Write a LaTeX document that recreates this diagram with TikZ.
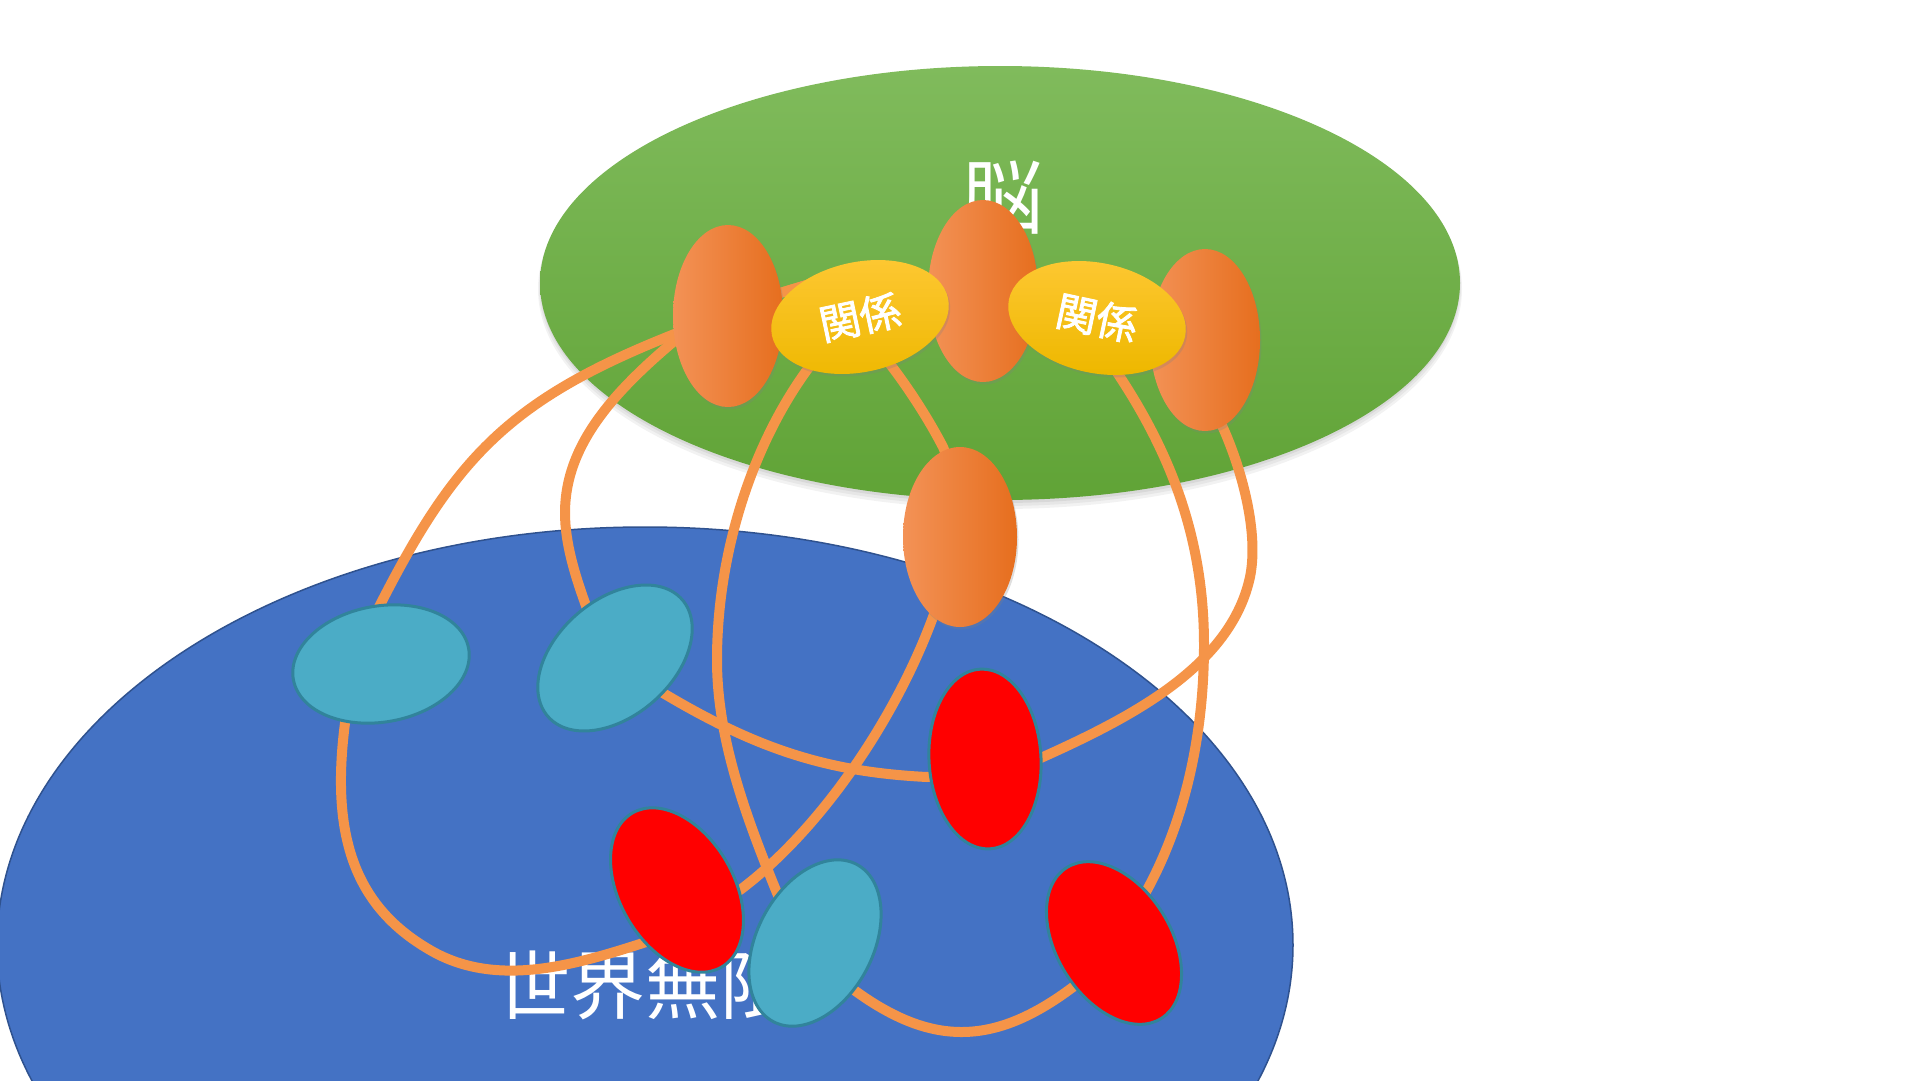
\documentclass[tikz,border=0pt]{standalone}
\usepackage{fontspec}
\newfontfamily\jp{Noto Sans CJK JP}
\newfontfamily\jpmid[FakeBold=2]{Noto Sans CJK JP}
\usetikzlibrary{shapes.geometric,shadows}
\definecolor{wirec}{RGB}{245,148,72}
\definecolor{oL}{RGB}{243,146,86}
\definecolor{oR}{RGB}{230,110,30}
\definecolor{yT}{RGB}{254,200,52}
\definecolor{yB}{RGB}{238,184,0}
\definecolor{gT}{RGB}{128,187,92}
\definecolor{gB}{RGB}{96,163,54}
\definecolor{bluF}{RGB}{68,114,196}
\definecolor{bluD}{RGB}{47,82,143}
\definecolor{tealF}{RGB}{75,172,198}
\definecolor{tealD}{RGB}{49,132,155}
\pgfdeclarelayer{back}
\pgfdeclarelayer{wires}
\pgfsetlayers{back,wires,main}
\begin{document}
\begin{tikzpicture}[x=1pt,y=-1pt,
  wire/.style={draw=wirec,line width=10pt,line join=round},
  orangeblob/.style={ellipse,inner sep=0pt,minimum width=110pt,minimum height=182pt,
    left color=oL,right color=oR,
    drop shadow={shadow xshift=1.5pt,shadow yshift=-2.5pt,opacity=0.25}},
  yellowblob/.style={ellipse,inner sep=0pt,minimum width=180pt,minimum height=110pt,
    top color=yT,bottom color=yB,text=white,
    font=\jpmid\fontsize{41}{41}\selectfont,
    drop shadow={shadow xshift=1.5pt,shadow yshift=-2.5pt,opacity=0.25}},
  tealblob/.style={ellipse,inner sep=0pt,minimum width=178pt,minimum height=116pt,
    fill=tealF,draw=tealD,line width=3pt},
  redblob/.style={ellipse,inner sep=0pt,minimum width=178pt,minimum height=114pt,
    fill=red,draw=tealD,line width=3pt},
  bigtext/.style={text=white,inner sep=0pt}
]
\useasboundingbox (0,0) rectangle (1920,1080);

% ---------- small ellipses (main layer) ----------
\node[orangeblob] (o1) at (728,316) {};
\node[orangeblob] (o2) at (983,291) {};
\node[orangeblob] (o3) at (1205,340) {};
\node[orangeblob,minimum width=114pt,minimum height=180pt] (o4) at (960,537) {};
\node[yellowblob,rotate=12] (y1) at (860,317) {関係};
\node[yellowblob,rotate=-12] (y2) at (1097,318) {関係};
\node[tealblob,rotate=10] (t1) at (381,664) {};
\node[tealblob,rotate=41] (t2) at (615,658) {};
\node[redblob,minimum width=112pt,minimum height=180pt,rotate=3] (r1) at (985,759) {};
\node[redblob,rotate=120] (r2) at (677,890) {};
\node[redblob,rotate=122] (r3) at (1114,943) {};
\node[tealblob,rotate=62] (t3) at (815,943) {};
\coordinate (hub) at (850,272);

% ---------- background ----------
\begin{pgfonlayer}{back}
  \begin{scope}
    \clip (0,0) rectangle (1920,1080);
    \node[ellipse,inner sep=0pt,minimum width=1296pt,minimum height=836pt,
      fill=bluF,draw=bluD,line width=1.5pt] (world) at (645,945) {};
    \fill[black,opacity=0.05] (1000,289) ellipse [x radius=462pt,y radius=220pt];
    \fill[black,opacity=0.05] (1000,287) ellipse [x radius=461pt,y radius=219pt];
    \fill[black,opacity=0.06] (1000,285) ellipse [x radius=460pt,y radius=218pt];
    \node[ellipse,inner sep=0pt,minimum width=920pt,minimum height=434pt,
      top color=gT,bottom color=gB] (brain) at (1000,283) {};
  \end{scope}
  \node[bigtext,font=\jp\fontsize{82}{82}\selectfont] (brainlabel) at (1002,198) {脳};
  \node[bigtext,font=\jp\fontsize{75}{75}\selectfont] (worldlabel) at (645,985) {世界無限};
\end{pgfonlayer}

% ---------- connectors ----------
\begin{pgfonlayer}{wires}
  % brain hub -> T1
  \draw[wire] (hub) -- (770,296) -- (690,328)
     .. controls (512,396) and (457,454) .. (380,605) -- (371,623) -- (t1.center);
  % brain hub -> T2
  \draw[wire] (hub) -- (770,296) -- (690,328)
     .. controls (616,388) and (565,443) .. (565,513)
     .. controls (565,543) and (575,575) .. (585,603) -- (592,623) -- (t2.center);
  % T1 -> R2
  \draw[wire] (t1.center) -- (348,703) -- (345,723)
     .. controls (331,832) and (352,905) .. (430,950)
     .. controls (495,988) and (572,966) .. (643,943) -- (662,937) -- (r2.center);
  % T2 -> R1
  \draw[wire] (t2.center) -- (646,683) -- (663,693)
     .. controls (757,749) and (827,772) .. (927,777) -- (947,776) -- (r1.center);
  % R1 -> O3
  \draw[wire] (r1.center) -- (1025,765) -- (1043,757)
     .. controls (1134,716) and (1231,665) .. (1250,577)
     .. controls (1259,533) and (1242,471) .. (1224,430) -- (1216,412) -- (o3.center);
  % Y1 -> T3
  \draw[wire] (y1.center) -- (819,354) -- (807,370)
     .. controls (754,443) and (717,550) .. (717,660)
     .. controls (717,740) and (747,819) .. (777,893) -- (785,911) -- (t3.center);
  % Y1 -> O4
  \draw[wire] (y1.center) -- (880,351) -- (893,368)
     .. controls (911,392) and (929,420) .. (943,447) -- (951,467) -- (o4.center);
  % O4 -> R2
  \draw[wire] (o4.center) -- (940,598) -- (933,617)
     .. controls (895,720) and (820,830) .. (740,890) -- (722,900) -- (r2.center);
  % Y2 -> R3
  \draw[wire] (y2.center) -- (1109,360) -- (1120,377)
     .. controls (1175,461) and (1204,545) .. (1204,645)
     .. controls (1204,735) and (1185,820) .. (1147,890) -- (1137,908) -- (r3.center);
  % T3 -> R3
  \draw[wire] (t3.center) -- (834,975) -- (850,987)
     .. controls (930,1047) and (993,1047) .. (1073,987) -- (1089,975) -- (r3.center);
\end{pgfonlayer}
\end{tikzpicture}
\end{document}
